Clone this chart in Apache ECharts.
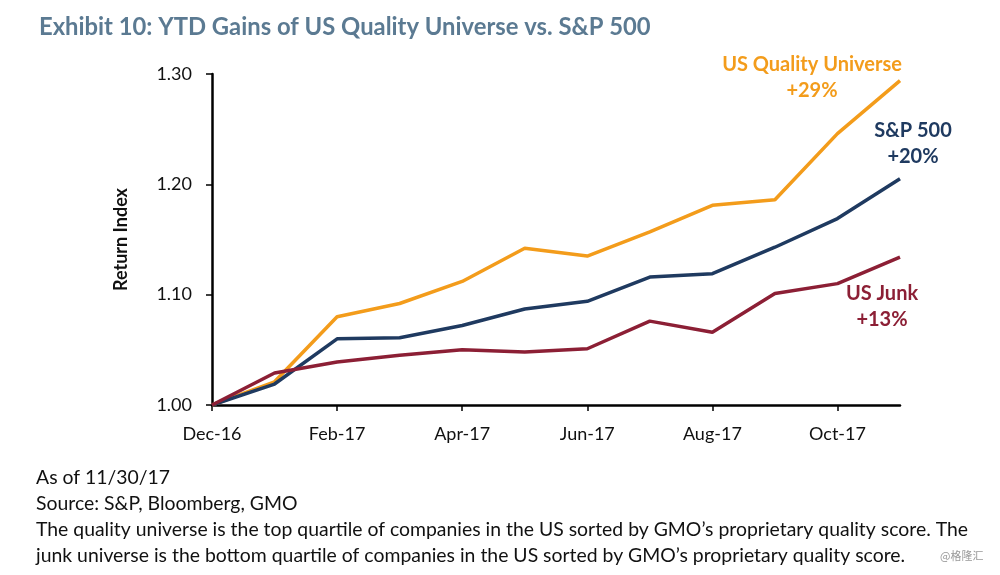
<!DOCTYPE html>
<html><head><meta charset="utf-8">
<script src="https://cdn.jsdelivr.net/npm/echarts@6/dist/echarts.min.js"></script>
<style>html,body{margin:0;padding:0;background:#fff}#c{width:1000px;height:575px}</style>
</head><body><div id="c"></div>
<script>
const categories = ['Dec-16','Jan-17','Feb-17','Mar-17','Apr-17','May-17','Jun-17','Jul-17','Aug-17','Sep-17','Oct-17','Nov-17'];
const qualityValues = [1.000,1.021,1.080,1.092,1.112,1.142,1.135,1.157,1.181,1.186,1.246,1.294];
const sp500Values   = [1.000,1.019,1.060,1.061,1.072,1.087,1.094,1.116,1.119,1.143,1.169,1.205];
const junkValues    = [1.000,1.029,1.039,1.045,1.050,1.048,1.051,1.076,1.066,1.101,1.110,1.134];
const yTicks = [1.00,1.10,1.20,1.30];

const FONT = 'Lato';
const cOrange = '#f39c1b', cNavy = '#1f3a60', cRed = '#8c1f35';
const chart = echarts.init(document.getElementById('c'));
function lineSeries(name, data, color){
  return {name, type:'line', data, symbol:'none', smooth:false,
    lineStyle:{color, width:3.5}, itemStyle:{color}};
}
chart.setOption({
  animation:false,
  textStyle:{fontFamily:FONT},
  title:{text:'Exhibit 10: YTD Gains of US Quality Universe vs. S&P 500', left:34, top:10,
    textStyle:{fontFamily:FONT, fontSize:23.8, fontWeight:'bold', color:'#5b7a92'}},
  grid:{left:212, right:100, top:74, bottom:170, containLabel:false},
  xAxis:{type:'category', data:categories, boundaryGap:false,
    axisLine:{lineStyle:{color:'#000', width:2.5}},
    axisTick:{show:true, length:6, lineStyle:{color:'#000', width:1.5}, interval:1, alignWithLabel:true},
    axisLabel:{interval:1, color:'#111', fontSize:18, fontFamily:FONT, margin:20}},
  yAxis:{type:'value', min:1.0, max:1.3, interval:0.1,
    name:'Return Index', nameLocation:'middle', nameGap:82, nameRotate:90,
    nameTextStyle:{fontFamily:FONT, fontSize:18, fontWeight:'bold', color:'#111'},
    splitLine:{show:false},
    axisLine:{show:true, lineStyle:{color:'#000', width:2.5}},
    axisTick:{show:true, length:6, lineStyle:{color:'#000', width:1.5}},
    axisLabel:{color:'#111', fontSize:18, fontFamily:FONT, margin:20,
      formatter:v=>{const t=yTicks.find(x=>Math.abs(x-v)<1e-6);return t!==undefined?t.toFixed(2):'';}}},
  series:[
    lineSeries('US Quality Universe', qualityValues, cOrange),
    lineSeries('S&P 500', sp500Values, cNavy),
    lineSeries('US Junk', junkValues, cRed)
  ],
  graphic:[
    {type:'text', x:812, y:52, style:{text:'US Quality Universe\n+29%', fill:cOrange, font:'bold 20px '+FONT, align:'center', verticalAlign:'top', lineHeight:26}},
    {type:'text', x:913, y:118, style:{text:'S&P 500\n+20%', fill:cNavy, font:'bold 20px '+FONT, align:'center', verticalAlign:'top', lineHeight:26}},
    {type:'text', x:882, y:281, style:{text:'US Junk\n+13%', fill:cRed, font:'bold 20px '+FONT, align:'center', verticalAlign:'top', lineHeight:26}},
    {type:'text', x:36, y:465, style:{text:'As of 11/30/17\nSource: S&P, Bloomberg, GMO\nThe quality universe is the top quartile of companies in the US sorted by GMO\u2019s proprietary quality score. The\njunk universe is the bottom quartile of companies in the US sorted by GMO\u2019s proprietary quality score.', fill:'#111', font:'19.4px '+FONT, lineHeight:25.8}},
    {type:'text', x:940, y:550, style:{text:'@格隆汇', fill:'#999', font:'11px "Noto Sans CJK SC"'}}
  ]
});
</script></body></html>
